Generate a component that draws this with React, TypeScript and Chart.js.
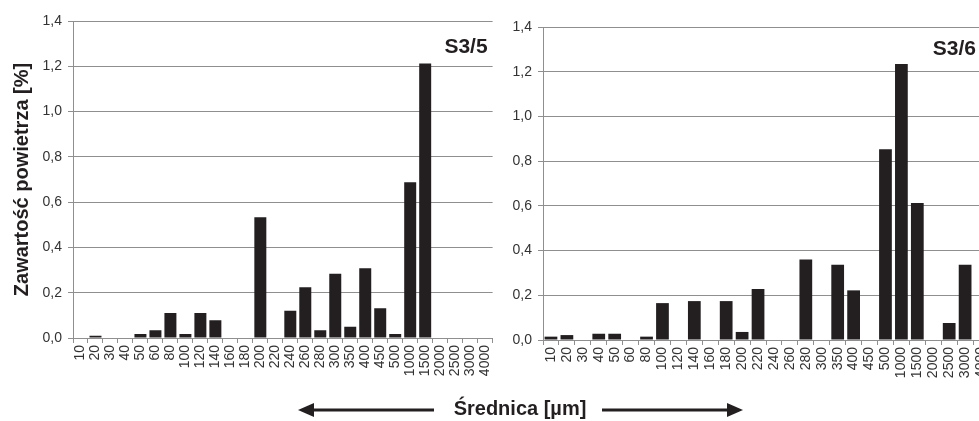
import React, { useEffect, useRef } from "react";
import { Chart, registerables } from "chart.js";

Chart.register(...registerables);

const categories = ["10", "20", "30", "40", "50", "60", "80", "100", "120", "140", "160", "180", "200", "220", "240", "260", "280", "300", "350", "400", "450", "500", "1000", "1500", "2000", "2500", "3000", "4000"];
const seriesS35 = [0, 0.01, 0, 0, 0.018, 0.034, 0.11, 0.018, 0.11, 0.078, 0, 0, 0.533, 0, 0.12, 0.224, 0.034, 0.284, 0.05, 0.308, 0.131, 0.018, 0.688, 1.212, 0, 0, 0, 0];
const seriesS36 = [0.015, 0.022, 0, 0.028, 0.028, 0, 0.015, 0.165, 0, 0.174, 0, 0.174, 0.036, 0.228, 0, 0, 0.36, 0, 0.337, 0.222, 0, 0.853, 1.234, 0.613, 0, 0.076, 0.337, 0];
const panelTitles = ["S3/5", "S3/6"];
const yAxisTitle = "Zawartość powietrza [%]";
const xAxisTitle = "Średnica [µm]";
const yMin = 0;
const yMax = 1.4;
const yStep = 0.2;

const FONT = "'Liberation Sans', Arial, sans-serif";
const GRID = "#8f8f8f";
const BAR = "#231f20";

const cornerLabel = {
  id: "cornerLabel",
  afterDatasetsDraw(chart: any, _args: any, opts: any) {
    if (!opts || !opts.text) return;
    const { ctx, chartArea } = chart;
    ctx.save();
    ctx.font = `bold ${opts.size}px ${FONT}`;
    ctx.fillStyle = "#231f20";
    ctx.textAlign = "right";
    ctx.textBaseline = "alphabetic";
    ctx.fillText(opts.text, chartArea.right - opts.dx, chartArea.top + opts.dy);
    ctx.restore();
  },
};

type PanelProps = {
  data: number[];
  title: string;
  showYTitle: boolean;
  yWidth: number;
  xHeight: number;
  padTop: number;
  padRight: number;
  labelDx: number;
  labelDy: number;
  width: number;
  height: number;
  left: number;
};

function Panel(p: PanelProps) {
  const ref = useRef<HTMLCanvasElement | null>(null);
  useEffect(() => {
    if (!ref.current) return;
    const chart = new Chart(ref.current, {
      type: "bar",
      data: {
        labels: categories,
        datasets: [
          {
            data: p.data,
            backgroundColor: BAR,
            borderWidth: 0,
            barPercentage: 0.8,
            categoryPercentage: 1,
          },
        ],
      },
      options: {
        animation: false,
        responsive: false,
        maintainAspectRatio: false,
        layout: { padding: { top: p.padTop, right: p.padRight, left: 0, bottom: 0 } },
        plugins: {
          legend: { display: false },
          tooltip: { enabled: false },
          cornerLabel: { text: p.title, dx: p.labelDx, dy: p.labelDy, size: 21 },
        } as any,
        scales: {
          x: {
            type: "category",
            offset: true,
            grid: {
              display: true,
              drawOnChartArea: false,
              drawTicks: true,
              tickLength: 5,
              color: GRID,
              offset: true,
            },
            border: { display: true, color: GRID, width: 1 },
            ticks: {
              autoSkip: false,
              minRotation: 90,
              maxRotation: 90,
              padding: 2,
              color: "#333",
              font: { family: FONT, size: 14 },
            },
            afterFit: (s: any) => {
              s.height = p.xHeight;
            },
          },
          y: {
            min: yMin,
            max: yMax,
            grid: {
              color: GRID,
              drawTicks: true,
              tickLength: 5,
            },
            border: { display: true, color: GRID, width: 1 },
            ticks: {
              stepSize: yStep,
              padding: 6,
              color: "#333",
              font: { family: FONT, size: 14 },
              callback: (v: any) => Number(v).toFixed(1).replace(".", ","),
            },
            title: {
              display: p.showYTitle,
              text: yAxisTitle,
              color: "#231f20",
              padding: { top: 10, bottom: 0 },
              font: { family: FONT, size: 20, weight: "bold" },
            },
            afterFit: (s: any) => {
              s.width = p.yWidth;
            },
          },
        },
      },
      plugins: [cornerLabel],
    });
    return () => chart.destroy();
  }, []);
  return (
    <canvas
      ref={ref}
      width={p.width}
      height={p.height}
      style={{ position: "absolute", left: p.left, top: 0, width: p.width, height: p.height }}
    />
  );
}

export default function App() {
  return (
    <div
      style={{
        position: "fixed",
        left: 0,
        top: 0,
        width: 979,
        height: 421,
        overflow: "hidden",
        background: "#fff",
      }}
    >
      <Panel
        data={seriesS35}
        title={panelTitles[0]}
        showYTitle={true}
        yWidth={73}
        xHeight={83}
        padTop={21}
        padRight={4}
        labelDx={5}
        labelDy={32}
        width={504}
        height={421}
        left={0}
      />
      <Panel
        data={seriesS36}
        title={panelTitles[1]}
        showYTitle={false}
        yWidth={46}
        xHeight={81}
        padTop={27}
        padRight={9}
        labelDx={13}
        labelDy={28}
        width={503}
        height={421}
        left={497}
      />
      <svg
        width={979}
        height={421}
        style={{ position: "absolute", left: 0, top: 0, pointerEvents: "none" }}
      >
        <line x1={310} y1={410} x2={434} y2={410} stroke="#231f20" strokeWidth={3} />
        <polygon points="298,410 314,403 314,417" fill="#231f20" />
        <line x1={602} y1={410} x2={730} y2={410} stroke="#231f20" strokeWidth={3} />
        <polygon points="743,410 727,403 727,417" fill="#231f20" />
      </svg>
      <div
        style={{
          position: "absolute",
          left: 420,
          width: 200,
          top: 397,
          textAlign: "center",
          fontFamily: FONT,
          fontWeight: "bold",
          fontSize: 20,
          lineHeight: "22px",
          color: "#231f20",
          whiteSpace: "nowrap",
        }}
      >
        {xAxisTitle}
      </div>
    </div>
  );
}
